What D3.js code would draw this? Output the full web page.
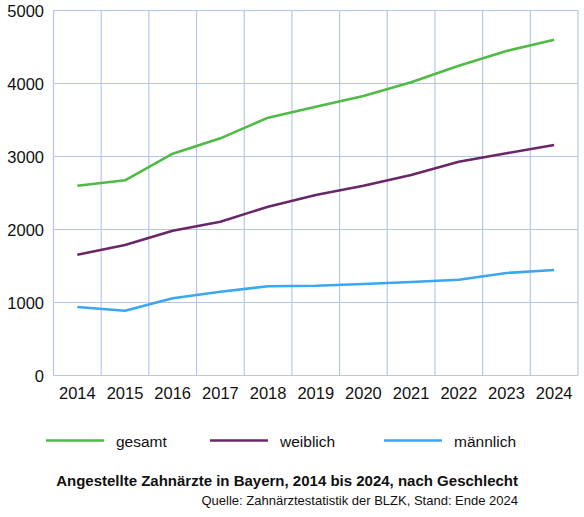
<!DOCTYPE html>
<html>
<head>
<meta charset="utf-8">
<script src="https://cdn.jsdelivr.net/npm/d3@7"></script>
<style>
  body { margin: 0; background: #fff; }
  svg { display: block; font-family: "Liberation Sans", Arial, Helvetica, sans-serif; }
</style>
</head>
<body>
<svg id="chart" width="584" height="517"></svg>
<script>
// Angestellte Zahnärzte in Bayern
const years = [2014, 2015, 2016, 2017, 2018, 2019, 2020, 2021, 2022, 2023, 2024];
const gesamt = [2600, 2674, 3038, 3249, 3532, 3682, 3829, 4016, 4244, 4445, 4600];
const weiblich = [1655, 1788, 1984, 2107, 2312, 2473, 2600, 2747, 2929, 3044, 3158];
const maennlich = [938, 888, 1058, 1148, 1222, 1230, 1253, 1281, 1312, 1404, 1445];
const yTicks = [0, 1000, 2000, 3000, 4000, 5000];

const seriesNames = ["gesamt", "weiblich", "männlich"];
const seriesColors = ["#4dbb45", "#6a2768", "#3ba6f2"];
const seriesValues = [gesamt, weiblich, maennlich];

const svg = d3.select("#chart");

const x = d3.scaleBand()
    .domain(years)
    .range([53.5, 578]);

const y = d3.scaleLinear()
    .domain([0, 5000])
    .range([375.5, 10.5]);

// grid
const gridColor = "#b6c6ea";
const grid = svg.append("g");

grid.selectAll("line.h")
    .data(yTicks)
    .enter().append("line")
    .attr("x1", x.range()[0])
    .attr("x2", x.range()[1])
    .attr("y1", d => y(d))
    .attr("y2", d => y(d))
    .attr("stroke", gridColor)
    .attr("stroke-width", 1.2);

const vlines = years.map(d => x(d)).concat([x.range()[1]]);
grid.selectAll("line.v")
    .data(vlines)
    .enter().append("line")
    .attr("x1", d => d)
    .attr("x2", d => d)
    .attr("y1", y(0))
    .attr("y2", y(5000))
    .attr("stroke", gridColor)
    .attr("stroke-width", 1.2);

// y axis labels
const yAxis = svg.append("g")
    .attr("transform", "translate(44,0)")
    .call(d3.axisLeft(y).tickValues(yTicks).tickSize(0).tickPadding(0).tickFormat(d3.format("d")));
yAxis.select(".domain").remove();
yAxis.selectAll("text")
    .style("font-size", "16.5px")
    .attr("fill", "#111")
    .attr("dy", "0.36em");

// x axis labels
const xAxis = svg.append("g")
    .attr("transform", "translate(0," + y(0) + ")")
    .call(d3.axisBottom(x).tickSize(0).tickPadding(12));
xAxis.select(".domain").remove();
xAxis.selectAll("text")
    .style("font-size", "16.5px")
    .attr("fill", "#111");

// lines
const line = d3.line()
    .x((d, i) => x(years[i]) + x.bandwidth() / 2)
    .y(d => y(d));

svg.selectAll("path.series")
    .data(seriesValues)
    .enter().append("path")
    .attr("class", "series")
    .attr("d", line)
    .attr("fill", "none")
    .attr("stroke", (d, i) => seriesColors[i])
    .attr("stroke-width", 2.6)
    .attr("stroke-linejoin", "round");

// legend
const legendX = [46, 210, 384];
const legend = svg.append("g");
seriesNames.forEach((name, i) => {
  legend.append("line")
      .attr("x1", legendX[i])
      .attr("x2", legendX[i] + 58)
      .attr("y1", 440.5)
      .attr("y2", 440.5)
      .attr("stroke", seriesColors[i])
      .attr("stroke-width", 2.6);
  legend.append("text")
      .attr("x", legendX[i] + 70)
      .attr("y", 447)
      .style("font-size", "15.5px")
      .attr("fill", "#111")
      .text(name);
});

// title and source
svg.append("text")
    .attr("x", 518)
    .attr("y", 486)
    .attr("text-anchor", "end")
    .style("font-size", "15px")
    .style("font-weight", "bold")
    .attr("fill", "#111")
    .text("Angestellte Zahnärzte in Bayern, 2014 bis 2024, nach Geschlecht");

svg.append("text")
    .attr("x", 518)
    .attr("y", 505)
    .attr("text-anchor", "end")
    .style("font-size", "13px")
    .attr("fill", "#111")
    .text("Quelle: Zahnärztestatistik der BLZK, Stand: Ende 2024");
</script>
</body>
</html>
